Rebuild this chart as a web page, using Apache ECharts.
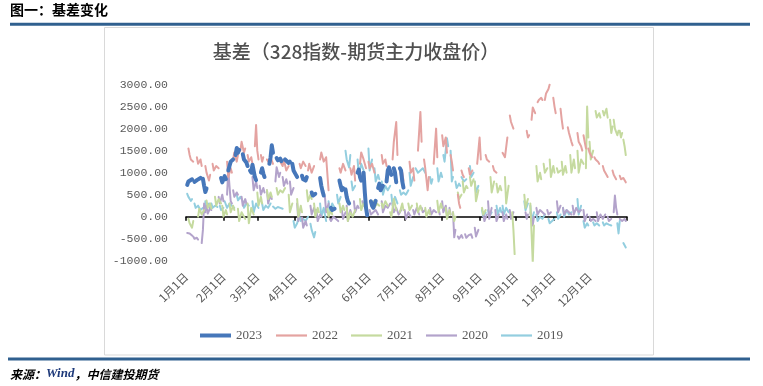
<!DOCTYPE html>
<html><head><meta charset="utf-8">
<script src="https://cdn.jsdelivr.net/npm/echarts@6/dist/echarts.min.js"></script>
<style>html,body{margin:0;padding:0;background:#fff}#c{width:763px;height:386px}</style>
</head><body><div id="c"></div>
<script>
// ---- tick labels / categories ----
const MONTH_LABELS = ['1月1日','2月1日','3月1日','4月1日','5月1日','6月1日','7月1日','8月1日','9月1日','10月1日','11月1日','12月1日'];
const MONTH_START = [0,31,59,90,120,151,181,212,243,273,304,334];
const YEAR_END = 365;
const SERIES_NAMES = ['2023','2022','2021','2020','2019'];

// ---- series values: segments of [dayOfYear, basis] (gaps between segments) ----
const y2023 = [
[[1,720],[2,800],[3,760],[5,850]],
[[7,790],[9,830],[10,800],[12,880]],
[[14,860],[15,700],[16,560],[17,640]],
[[29,880],[30,780],[32,920],[33,850]],
[[35,1050],[36,1150],[37,1250],[39,1300]],
[[41,1400],[42,1560],[43,1450],[44,1520]],
[[47,1420],[48,1300],[50,1230],[51,1150]],
[[53,1050],[54,1000],[55,1180],[57,900],[58,830]],
[[62,1000],[63,1100],[64,980],[65,900]],
[[69,1200],[70,1350],[71,1620],[72,1450]],
[[75,1330],[76,1280],[78,1320],[79,1260]],
[[82,1300],[83,1280],[85,1220],[86,1250]],
[[88,1200],[89,1050],[91,950],[92,900]],
[[96,930],[97,850],[99,820],[100,900]],
[[104,550],[105,480],[106,440],[107,520]],
[[111,880],[112,700],[113,580],[114,480]],
[[120,200],[121,150],[123,180]],
[[127,820],[128,700],[129,600],[130,650]],
[[132,620],[133,450],[134,350],[135,300]],
[[142,1000],[143,1070],[144,900],[145,820]],
[[147,1000],[148,550],[149,200],[150,30]],
[[153,350],[154,250],[155,200],[157,360]],
[[159,650],[160,750],[161,600],[163,700]],
[[166,800],[167,1050],[168,1120],[170,950]],
[[172,1100],[173,1000],[174,780]],
[[177,1100],[178,1050],[179,800],[180,660]]
];
const y2022 = [
[[2,1550],[3,1400],[4,1300],[6,1250]],
[[9,1350],[10,1200],[12,1300],[13,1150]],
[[16,1150],[17,1000],[19,820],[20,950]],
[[22,1200],[23,1050],[25,1150],[27,1100]],
[[34,1250],[35,900],[37,1100],[38,1000]],
[[39,1300],[40,1460],[42,1250],[43,1400]],
[[45,1500],[46,1700],[48,1450],[49,1550]],
[[51,1400],[52,1250],[54,1350],[55,1200]],
[[57,1600],[58,2080],[59,1500],[60,1300]],
[[62,1400],[63,1250],[64,1350]],
[[67,1300],[68,1250],[70,1350],[72,1200]],
[[78,1250],[80,1150],[81,1300],[83,1050],[85,1150]],
[[94,1200],[95,1100],[97,1250],[99,1150]],
[[101,1050],[102,1200],[104,1000],[106,1150]],
[[111,1300],[112,1460],[114,1250],[116,1350],[118,600]],
[[127,1100],[128,1000],[130,1200],[132,1050]],
[[136,1100],[137,950],[139,1150],[140,820]],
[[144,1200],[145,1460],[147,1300],[149,1100]],
[[151,1250],[152,1100],[154,1200],[156,1000]],
[[162,1400],[163,1200],[165,1300],[166,1150]],
[[171,1300],[172,1700],[174,2150],[175,1400]],
[[177,1100],[178,900],[179,1000],[180,820]],
[[185,1250],[186,1000],[188,1100],[189,820]],
[[192,1500],[194,2380],[195,1700]],
[[197,1300],[198,1100],[200,600],[201,900]],
[[205,1200],[207,2000],[208,1350]],
[[212,1850],[213,1600],[215,1800],[216,1450]],
[[219,1400],[220,1250],[221,1050]],
[[225,500],[226,300],[227,200]],
[[228,1050],[229,950],[230,900]],
[[234,1100],[235,950],[237,1050]],
[[241,1200],[243,1800],[244,1300]],
[[248,1400],[249,1300],[251,1250]],
[[254,1150],[255,1050],[257,1000]],
[[262,1450],[264,1350],[266,1800]],
[[268,2300],[269,2150],[271,2000]],
[[282,1950],[283,1800],[284,1850]],
[[286,2200],[287,2480],[289,2350]],
[[291,2600],[292,2650],[294,2700],[295,2650]],
[[297,2650],[298,2800],[300,2900],[301,3000]],
[[304,2700],[305,2500],[306,2350]],
[[310,2450],[311,2200],[312,2000]],
[[316,2030],[317,1900],[319,1700],[320,1620]],
[[324,1900],[325,1700],[327,1600],[328,1500]],
[[329,1850],[330,1700],[331,1550]],
[[333,1550],[334,1450],[336,1350]],
[[338,1350],[339,1300],[341,1250],[342,1200]],
[[345,1150],[346,1050],[348,950],[349,900]],
[[353,1050],[354,950],[356,850]],
[[359,930],[360,850],[362,880],[364,780]]
];
const y2021 = [
[[2,-50],[3,-150],[5,-250],[6,-100]],
[[10,0],[11,180],[13,50],[15,150]],
[[17,370],[18,200],[20,300],[21,180]],
[[24,450],[25,250],[27,400],[29,300]],
[[30,250],[31,0],[33,150],[34,50]],
[[36,300],[37,100],[39,250],[40,150]],
[[43,180],[44,-100],[46,100],[48,0],[49,-50]],
[[51,300],[52,-150],[54,200],[56,50]],
[[59,550],[60,250],[62,450],[63,300]],
[[67,600],[68,400],[70,550],[71,450]],
[[75,650],[76,500],[78,600],[80,550],[82,650]],
[[85,500],[86,100],[88,300]],
[[92,400],[93,0],[95,250],[96,100]],
[[100,600],[101,350],[103,500],[104,400]],
[[106,300],[107,0],[109,200],[110,100]],
[[117,180],[118,0],[120,150],[121,50]],
[[127,300],[128,100],[130,250],[131,150]],
[[133,200],[134,-100],[136,100],[138,0],[140,150]],
[[144,400],[145,150],[147,300],[149,250]],
[[155,350],[156,200],[158,300],[160,250]],
[[162,300],[163,200],[165,350],[167,250]],
[[169,100],[170,0],[172,400],[174,150]],
[[177,100],[179,300],[180,150]],
[[184,300],[185,150],[187,250]],
[[191,300],[192,100],[194,250],[195,150]],
[[198,200],[199,0],[201,150],[202,50]],
[[208,360],[209,100],[211,300],[212,200]],
[[215,200],[216,-50],[218,150],[219,50]],
[[221,100],[222,-100],[223,0]],
[[225,550],[226,400],[228,500]],
[[229,800],[230,550],[232,700],[233,650]],
[[235,900],[236,700],[238,850]],
[[239,800],[240,350],[242,600]],
[[245,200],[246,50],[248,150]],
[[252,900],[253,550],[255,800]],
[[257,750],[258,550],[260,700],[261,600]],
[[264,900],[265,300],[267,700]],
[[270,100],[271,-300],[272,-850]],
[[280,500],[281,200],[283,400]],
[[285,300],[287,-1050],[288,-200]],
[[290,1150],[291,800],[293,1000],[294,850]],
[[296,1200],[297,1000],[299,1100]],
[[301,1300],[302,900],[304,1150],[305,1000]],
[[307,1100],[308,1000],[310,1050]],
[[311,1250],[312,950],[314,1150],[315,1000]],
[[318,1400],[319,1000],[321,1300],[322,1100]],
[[324,1500],[325,1000],[327,1300],[329,1200]],
[[331,1100],[332,2500],[333,1800]],
[[334,1700],[335,1300],[337,1500]],
[[339,2400],[340,2250],[342,2350],[343,2250]],
[[345,2400],[346,2300],[348,2450],[349,2250]],
[[351,2200],[352,1900],[353,2050]],
[[354,2200],[355,2000],[357,1850],[358,1950]],
[[359,1950],[360,1800],[361,1900]],
[[362,1750],[363,1600],[364,1400]]
];
const y2020 = [
[[1,-370],[2,-400],[3,-380],[5,-430]],
[[6,-450],[7,-500],[9,-480],[10,-520]],
[[13,-600],[14,-300],[15,300],[16,100]],
[[17,250],[18,70],[20,200],[21,150]],
[[27,450],[28,300],[30,500],[31,350]],
[[34,500],[35,1050],[36,700],[37,350],[38,300]],
[[39,600],[40,450],[42,550],[43,500]],
[[46,450],[47,250],[49,400],[50,300]],
[[55,900],[56,600],[58,800],[59,650]],
[[61,700],[62,500],[64,650],[65,550]],
[[67,600],[68,300],[70,500],[71,400]],
[[74,800],[75,1120],[77,900],[78,1000]],
[[80,900],[81,700],[83,850],[84,750]],
[[86,800],[87,500],[89,650]],
[[92,300],[93,-100],[94,100]],
[[96,-20],[97,-250],[99,-100],[100,-200]],
[[103,250],[104,50],[106,200],[107,100]],
[[108,150],[109,-100],[111,50],[112,0]],
[[115,450],[116,100],[118,300]],
[[119,-50],[120,-100],[122,0],[124,-50],[126,-100]],
[[129,150],[130,-50],[132,100]],
[[133,250],[134,-100],[136,150],[137,50]],
[[139,350],[140,100],[142,250],[143,200]],
[[146,350],[147,250],[149,300]],
[[152,150],[153,50],[155,100],[157,150],[159,50]],
[[162,350],[163,100],[165,250],[167,200],[169,300]],
[[171,300],[172,100],[174,200],[176,50],[178,150]],
[[181,150],[182,-50],[184,100],[186,0]],
[[188,150],[189,50],[191,200],[193,50]],
[[195,200],[196,100],[198,150]],
[[202,200],[203,50],[205,150],[207,100]],
[[209,200],[210,50]],
[[212,350],[213,100],[215,250],[216,50]],
[[218,200],[219,50]],
[[221,100],[222,-470],[223,-300]],
[[225,-450],[226,-500],[228,-420],[229,-480]],
[[231,-400],[232,-480],[234,-420],[236,-400],[237,-480]],
[[239,-250],[240,-450],[242,-300]],
[[246,80],[247,-100],[249,50]],
[[250,350],[251,-50],[253,200]],
[[256,150],[257,-100],[259,50]],
[[262,100],[263,-100],[265,50],[266,-50]],
[[268,150],[269,-50],[271,100]],
[[281,100],[282,-50],[283,50]],
[[285,100],[287,-200],[288,0]],
[[290,200],[291,50],[293,150],[295,100],[297,50]],
[[299,150],[300,50],[302,100]],
[[307,350],[308,100],[310,250]],
[[312,200],[313,50],[315,150],[317,100],[319,50]],
[[320,250],[321,50],[323,200],[325,100],[327,150]],
[[329,150],[330,-100],[332,50]],
[[334,0],[335,-100],[337,-50],[339,-100]],
[[340,100],[341,-100],[343,50],[345,-50],[347,50]],
[[349,0],[350,-100],[352,-50]],
[[354,100],[355,480],[356,200],[357,50]],
[[359,-50],[361,-100],[363,-50],[364,-100]]
];
const y2019 = [
[[1,520],[2,450],[4,360],[5,400]],
[[7,300],[8,200],[10,250],[12,150],[14,200]],
[[16,350],[17,150],[19,300],[20,200]],
[[21,300],[22,200],[24,250],[26,220]],
[[28,250],[29,150],[31,200]],
[[32,350],[34,200],[36,300],[38,250],[40,200]],
[[42,500],[43,370],[45,450],[46,400]],
[[47,350],[48,200],[50,300],[52,250]],
[[55,350],[56,100],[58,300],[60,200]],
[[63,300],[64,150],[66,250],[68,200],[70,300]],
[[72,230],[74,180],[76,220],[78,200],[80,180]],
[[89,-100],[90,-250],[92,-150],[93,-50]],
[[94,0],[95,-100],[97,-50],[99,-100],[101,0]],
[[103,-160],[104,-300],[106,-470],[107,-350]],
[[111,300],[112,0],[114,200],[116,-100]],
[[118,350],[119,100],[121,300],[123,200]],
[[125,500],[126,300],[128,450]],
[[132,1500],[133,1300],[135,1120],[136,1400]],
[[137,800],[138,600],[140,700]],
[[142,1300],[143,950],[145,1200],[147,1050]],
[[151,1550],[152,1050],[154,1300]],
[[156,1100],[157,800],[159,950],[160,850]],
[[162,800],[163,500],[165,700],[167,600],[169,700]],
[[170,500],[171,250],[173,450],[175,300]],
[[177,600],[178,500],[180,550],[182,500],[184,600]],
[[185,1000],[186,700],[188,900]],
[[190,1100],[192,1000],[194,1050],[196,1100],[198,1000]],
[[202,900],[203,750],[204,850]],
[[208,1100],[209,800],[211,1000],[212,900]],
[[213,1400],[214,1250],[216,1780],[217,1600]],
[[219,1500],[220,800],[221,900]],
[[223,800],[224,650],[226,750],[227,700]],
[[228,900],[230,800],[232,850]],
[[235,1150],[236,900],[238,1000]],
[[239,800],[240,550],[242,700]],
[[245,150],[246,0],[248,100]],
[[250,150],[251,0],[253,100]],
[[257,250],[258,50],[260,200],[261,100]],
[[262,250],[263,50],[265,200],[267,100]],
[[280,350],[281,150],[283,300]],
[[285,250],[286,-100],[288,100]],
[[290,50],[291,-100],[293,0],[295,-50],[297,50]],
[[300,-50],[301,-150],[303,-100],[305,-50]],
[[307,100],[308,-50],[310,50]],
[[312,200],[313,0],[315,150],[317,50],[319,100]],
[[324,400],[325,50],[327,250]],
[[329,-100],[330,-250],[332,-150],[333,-200]],
[[337,-130],[338,-200],[340,-150],[342,-200]],
[[345,-130],[346,-200],[348,-150],[350,-180],[352,-200]],
[[357,-150],[358,-380],[359,-100]],
[[362,-600],[363,-650],[364,-700]]
];

function flatten(segs){
  const out=[];
  segs.forEach((s,i)=>{ if(i>0) out.push([s[0][0]-0.5,null]); s.forEach(p=>out.push(p)); });
  return out;
}
const COLORS = ['#4677BA','#E4A3A1','#C5DA9F','#B3A3CB','#93CEDF'];
const WIDTHS = [4,2,2,2,2];
const DATA = [y2023,y2022,y2021,y2020,y2019];

const chart = echarts.init(document.getElementById('c'), null, {renderer:'canvas'});
const gray = '#595959';
const legendText = {color:gray,fontSize:13,fontFamily:'"Liberation Serif"'};
chart.setOption({
  animation:false,
  backgroundColor:'#fff',
  grid:{left:186,right:136,top:84.6,bottom:125.3,containLabel:false},
  xAxis:{
    type:'value', min:0, max:YEAR_END,
    axisLine:{onZero:true,lineStyle:{color:'#000',width:1.5}},
    axisTick:{show:true,length:4,customValues:[...MONTH_START,YEAR_END],lineStyle:{color:'#000',width:1.5}},
    axisLabel:{customValues:MONTH_START,rotate:45,margin:14,color:gray,fontSize:11.5,
      fontFamily:'"Noto Sans CJK SC"',
      formatter:v=>{const i=MONTH_START.indexOf(Math.round(v));return i>=0?MONTH_LABELS[i]:'';}},
    splitLine:{show:false}
  },
  yAxis:{
    type:'value', min:-1000, max:3000, interval:500,
    axisLine:{show:false}, axisTick:{show:false}, splitLine:{show:false},
    axisLabel:{margin:18,color:gray,fontSize:11.5,fontFamily:'"Liberation Mono"',formatter:v=>v.toFixed(2)}
  },
  legend:[
    {left:200, top:329, padding:0, icon:'rect', itemWidth:31, itemHeight:4, itemGap:13, textStyle:legendText, data:[SERIES_NAMES[0]]},
    {left:276, top:329, padding:0, icon:'rect', itemWidth:31, itemHeight:2.2, itemGap:13, textStyle:legendText, data:SERIES_NAMES.slice(1)}
  ],
  series:SERIES_NAMES.map((n,i)=>({
    name:n,type:'line',symbol:'none',showSymbol:false,connectNulls:false,
    data:flatten(DATA[i]),
    lineStyle:{color:COLORS[i],width:WIDTHS[i],cap:'round',join:'round'},
    itemStyle:{color:COLORS[i]},
    z:10-i
  })),
  graphic:[
    {type:'text',left:10,top:3,style:{text:'图一：基差变化',font:'bold 14px "Noto Sans CJK SC"',fill:'#000'}},
    {type:'rect',shape:{x:10,y:22.7,width:740,height:3},style:{fill:'#30608F'}},
    {type:'rect',shape:{x:104.5,y:27.5,width:549,height:327.5},style:{fill:'none',stroke:'#D9D9D9',lineWidth:1}},
    {type:'text',x:356,y:52,style:{text:'基差（328指数-期货主力收盘价）',font:'500 19px "Noto Sans CJK SC"',fill:'#505050',align:'center',verticalAlign:'middle'}},
    {type:'rect',shape:{x:8,y:357.5,width:742,height:3},style:{fill:'#30608F'}},
    {type:'text',x:10,y:374,style:{
      text:'{a|来源：}{b|Wind}{a|，中信建投期货}',verticalAlign:'middle',
      rich:{a:{font:'italic bold 12px "Noto Sans CJK SC"',fill:'#000'},b:{font:'italic bold 13px "Liberation Serif"',fill:'#1F3A7A'}}}}
  ]
});
</script></body></html>
